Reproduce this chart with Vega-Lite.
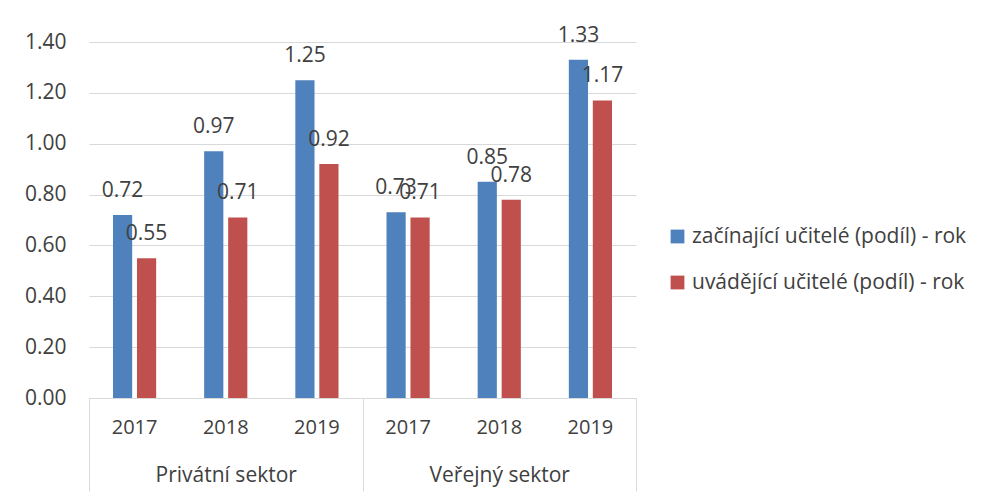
{
  "$schema": "https://vega.github.io/schema/vega-lite/v6.json",
  "padding": {"left": 24, "top": 24, "right": 5, "bottom": 0},
  "background": "white",
  "width": 547,
  "height": 356,
  "data": {"values": [
    {"sector": "Privátní sektor", "group": "Privátní sektor|2017", "series": "začínající učitelé (podíl) - rok", "value": 0.72},
    {"sector": "Privátní sektor", "group": "Privátní sektor|2017", "series": "uvádějící učitelé (podíl) - rok", "value": 0.55},
    {"sector": "Privátní sektor", "group": "Privátní sektor|2018", "series": "začínající učitelé (podíl) - rok", "value": 0.97},
    {"sector": "Privátní sektor", "group": "Privátní sektor|2018", "series": "uvádějící učitelé (podíl) - rok", "value": 0.71},
    {"sector": "Privátní sektor", "group": "Privátní sektor|2019", "series": "začínající učitelé (podíl) - rok", "value": 1.25},
    {"sector": "Privátní sektor", "group": "Privátní sektor|2019", "series": "uvádějící učitelé (podíl) - rok", "value": 0.92},
    {"sector": "Veřejný sektor", "group": "Veřejný sektor|2017", "series": "začínající učitelé (podíl) - rok", "value": 0.73},
    {"sector": "Veřejný sektor", "group": "Veřejný sektor|2017", "series": "uvádějící učitelé (podíl) - rok", "value": 0.71},
    {"sector": "Veřejný sektor", "group": "Veřejný sektor|2018", "series": "začínající učitelé (podíl) - rok", "value": 0.85},
    {"sector": "Veřejný sektor", "group": "Veřejný sektor|2018", "series": "uvádějící učitelé (podíl) - rok", "value": 0.78},
    {"sector": "Veřejný sektor", "group": "Veřejný sektor|2019", "series": "začínající učitelé (podíl) - rok", "value": 1.33},
    {"sector": "Veřejný sektor", "group": "Veřejný sektor|2019", "series": "uvádějící učitelé (podíl) - rok", "value": 1.17}
  ]},
  "layer": [
    {
      "encoding": {
        "x": {
          "field": "group",
          "type": "ordinal",
          "title": null,
          "scale": {"paddingInner": 0, "paddingOuter": 0},
          "axis": {
            "orient": "bottom",
            "labelAngle": 0,
            "ticks": false,
            "labelExpr": "split(datum.label, '|')[1]",
            "labelPadding": 29,
            "labelBaseline": "middle",
            "labelFontSize": 20,
            "domainColor": "#D9D9D9",
            "grid": false
          }
        },
        "xOffset": {
          "field": "series",
          "type": "nominal",
          "sort": ["začínající učitelé (podíl) - rok", "uvádějící učitelé (podíl) - rok"],
          "scale": {"paddingInner": 0.2, "paddingOuter": 1}
        },
        "y": {
          "field": "value",
          "type": "quantitative",
          "title": null,
          "scale": {"domain": [0, 1.4]},
          "axis": {
            "values": [0, 0.2, 0.4, 0.6, 0.8, 1.0, 1.2, 1.4],
            "format": ".2f",
            "domain": false,
            "ticks": false,
            "labelPadding": 23,
            "labelFontSize": 21,
            "gridColor": "#D9D9D9"
          }
        }
      },
      "layer": [
        {
          "mark": {"type": "bar"},
          "encoding": {
            "color": {
              "field": "series",
              "type": "nominal",
              "sort": ["začínající učitelé (podíl) - rok", "uvádějící učitelé (podíl) - rok"],
              "scale": {"range": ["#4F81BD", "#C0504D"]},
              "legend": {
                "title": null,
                "orient": "none",
                "legendX": 578,
                "legendY": 184,
                "symbolType": "square",
                "symbolSize": 190,
                "symbolStrokeWidth": 0,
                "labelFont": "Open Sans",
                "labelFontSize": 21,
                "labelColor": "#404040",
                "labelOffset": 4,
                "rowPadding": 24,
                "labelLimit": 400
              }
            }
          }
        },
        {
          "mark": {"type": "text", "baseline": "middle", "dy": -24, "font": "Open Sans", "fontSize": 21, "color": "#404040"},
          "encoding": {
            "text": {"field": "value", "type": "quantitative", "format": ".2f"}
          }
        }
      ]
    },
    {
      "mark": {"type": "tick", "opacity": 0},
      "encoding": {
        "x": {
          "field": "sector",
          "type": "nominal",
          "title": null,
          "scale": {"paddingInner": 0, "paddingOuter": 0},
          "axis": {
            "orient": "bottom",
            "labelAngle": 0,
            "domain": false,
            "tickBand": "extent",
            "tickSize": 93,
            "tickColor": "#D9D9D9",
            "labelPadding": -16,
            "labelBaseline": "middle",
            "labelFontSize": 21,
            "grid": false
          }
        }
      }
    }
  ],
  "resolve": {"scale": {"x": "independent"}, "axis": {"x": "independent"}},
  "config": {
    "view": {"stroke": null},
    "font": "Open Sans",
    "axis": {"labelFont": "Open Sans", "labelFontSize": 19, "labelColor": "#404040"}
  }
}
